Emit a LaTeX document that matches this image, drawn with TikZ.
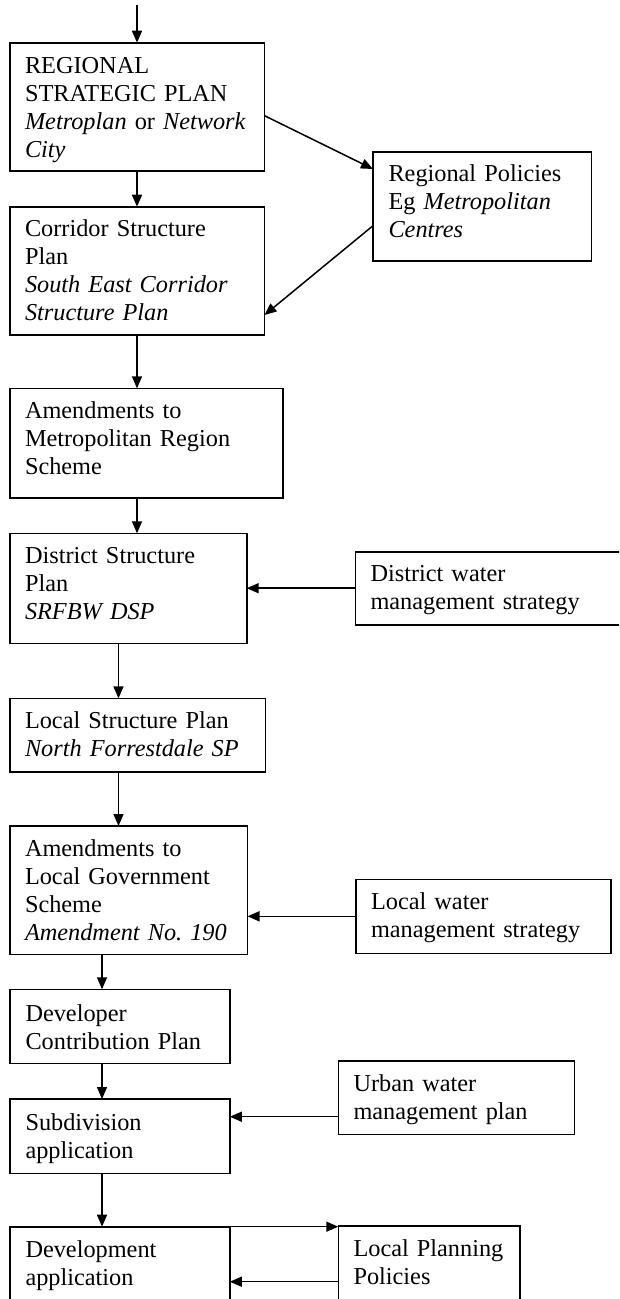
\documentclass[tikz,border=0pt]{standalone}
\usepackage{fontspec}
\setmainfont{Liberation Serif}
\usetikzlibrary{arrows.meta}
\tikzset{
  pbox/.style={draw, line width=1.6pt, inner sep=0pt, outer sep=0pt, anchor=north west},
  txt/.style={anchor=north west, inner sep=0pt, outer sep=0pt, text width=300pt, align=left,
              font=\fontsize{24.3}{28}\selectfont},
  arr/.style={line width=1.5pt, -{Triangle[length=12pt,width=10pt]}}
}
\newcommand{\fs}{\rule{0pt}{20pt}}
\begin{document}
\begin{tikzpicture}[x=1pt,y=-1pt]
\useasboundingbox (0,0) rectangle (619,1299);
\clip (0,0) rectangle (619,1299);
% boxes
\node[pbox, minimum width=254.5pt, minimum height=128.3pt] (rsp) at (10,42.7) {};
\node[txt] (rsp-t) at (25,53.3) {\fs REGIONAL\\STRATEGIC PLAN\\\textit{Metroplan} or \textit{Network}\\\textit{City}};
\node[pbox, minimum width=254.5pt, minimum height=128.3pt] (csp) at (10,206.7) {};
\node[txt] (csp-t) at (25,216.7) {\fs Corridor Structure\\Plan\\\textit{South East Corridor}\\\textit{Structure Plan}};
\node[pbox, minimum width=218.4pt, minimum height=109pt] (rp) at (373,151.7) {};
\node[txt] (rp-t) at (388.5,161.7) {\fs Regional Policies\\Eg \textit{Metropolitan}\\\textit{Centres}};
\node[pbox, minimum width=272.7pt, minimum height=109.4pt] (mrs) at (10,388.3) {};
\node[txt] (mrs-t) at (25,398.3) {\fs Amendments to\\Metropolitan Region\\Scheme};
\node[pbox, minimum width=236.7pt, minimum height=110pt] (dsp) at (10,533.3) {};
\node[txt] (dsp-t) at (25,543.3) {\fs District Structure\\Plan\\\textit{SRFBW DSP}};
\node[pbox, minimum width=300pt, minimum height=73pt] (dwms) at (355.3,551.7) {};
\node[txt] (dwms-t) at (370.5,561.7) {\fs District water\\management strategy};
\node[pbox, minimum width=255.3pt, minimum height=73.4pt] (lsp) at (10,698.3) {};
\node[txt] (lsp-t) at (25,708.3) {\fs Local Structure Plan\\\textit{North Forrestdale SP}};
\node[pbox, minimum width=237.5pt, minimum height=128.3pt] (lgs) at (10,826) {};
\node[txt] (lgs-t) at (25,836.7) {\fs Amendments to\\Local Government\\Scheme\\\textit{Amendment No.\ 190}};
\node[pbox, minimum width=255pt, minimum height=74pt] (lwms) at (356,879.3) {};
\node[txt] (lwms-t) at (371,889.3) {\fs Local water\\management strategy};
\node[pbox, minimum width=219.8pt, minimum height=74pt] (dcp) at (10,989.3) {};
\node[txt] (dcp-t) at (25.5,1001) {\fs Developer\\Contribution Plan};
\node[pbox, minimum width=219.8pt, minimum height=74.3pt] (sub) at (10,1099) {};
\node[txt] (sub-t) at (25.5,1110) {\fs Subdivision\\application};
\node[pbox, minimum width=236.1pt, minimum height=73.3pt] (uwmp) at (338.3,1061) {};
\node[txt] (uwmp-t) at (353.5,1071.7) {\fs Urban water\\management plan};
\node[pbox, minimum width=219.8pt, minimum height=100pt] (dev) at (10,1226.7) {};
\node[txt] (dev-t) at (25.5,1237.7) {\fs Development\\application};
\node[pbox, minimum width=181.7pt, minimum height=100pt] (lpp) at (338.3,1225.7) {};
\node[txt] (lpp-t) at (353.5,1236) {\fs Local Planning\\Policies};
% helper coordinates
\coordinate (top) at (137,5);
\coordinate (c1) at (137,0);
\coordinate (c2) at (118.5,0);
\coordinate (c3) at (102,0);
\coordinate (ra) at (0,115.7);
\coordinate (rb) at (0,169);
\coordinate (rc) at (0,225.7);
\coordinate (rd) at (0,315);
\coordinate (re) at (0,1116.7);
\coordinate (rf) at (0,1281.7);
% connectors
\draw[arr] (top) -- (top |- rsp.north);
\draw[arr] (c1 |- rsp.south) -- (c1 |- csp.north);
\draw[arr] (rsp.east |- ra) -- (rp.west |- rb);
\draw[arr] (rp.west |- rc) -- (csp.east |- rd);
\draw[arr] (c1 |- csp.south) -- (c1 |- mrs.north);
\draw[arr] (c1 |- mrs.south) -- (c1 |- dsp.north);
\draw[arr] (dwms.west) -- (dwms.west -| dsp.east);
\draw[arr] (c2 |- dsp.south) -- (c2 |- lsp.north);
\draw[arr] (c2 |- lsp.south) -- (c2 |- lgs.north);
\draw[arr] (lwms.west) -- (lwms.west -| lgs.east);
\draw[arr] (c3 |- lgs.south) -- (c3 |- dcp.north);
\draw[arr] (c3 |- dcp.south) -- (c3 |- sub.north);
\draw[arr] (uwmp.west |- re) -- (sub.east |- re);
\draw[arr] (c3 |- sub.south) -- (c3 |- dev.north);
\draw[arr] (dev.north east) -- (dev.north east -| lpp.west);
\draw[arr] (lpp.west |- rf) -- (dev.east |- rf);
\end{tikzpicture}
\end{document}
